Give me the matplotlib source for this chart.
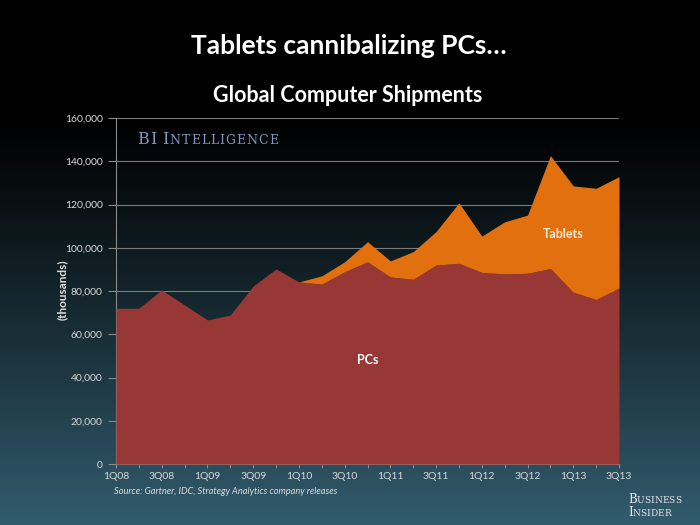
import numpy as np
import matplotlib
matplotlib.use("Agg")
import matplotlib.pyplot as plt

quarters = ["1Q08", "2Q08", "3Q08", "4Q08", "1Q09", "2Q09", "3Q09", "4Q09",
            "1Q10", "2Q10", "3Q10", "4Q10", "1Q11", "2Q11", "3Q11", "4Q11",
            "1Q12", "2Q12", "3Q12", "4Q12", "1Q13", "2Q13", "3Q13"]
pcs = [72000, 72000, 80500, 73500, 66600, 68900, 82300, 90200,
       84200, 83200, 88900, 93500, 86500, 85400, 92000, 92800,
       88600, 87900, 88200, 90400, 79400, 76100, 81400]
tablets = [0, 0, 0, 0, 0, 0, 0, 0,
           0, 3800, 4600, 9300, 7400, 12800, 15500, 28000,
           16800, 24100, 26900, 52200, 49200, 51400, 51500]
yticks = [0, 20000, 40000, 60000, 80000, 100000, 120000, 140000, 160000]

fig = plt.figure(figsize=(7, 5.25), dpi=100)

# background gradient: black top -> dark teal bottom
bg = fig.add_axes([0, 0, 1, 1], zorder=-10)
t = np.linspace(0, 1, 256)
w = np.clip((t - 0.22) / 0.78, 0, 1) ** 1.1
top_c = np.array([0, 0, 0])
bot_c = np.array([50, 92, 110]) / 255
grad = top_c[None, :] * (1 - w[:, None]) + bot_c[None, :] * w[:, None]
bg.imshow(grad[:, None, :], aspect="auto", extent=[0, 1, 0, 1])
bg.axis("off")

ax = fig.add_axes([116/700, 61/525, 503/700, 346/525])
ax.patch.set_alpha(0)
x = np.arange(len(quarters))
pcs = np.array(pcs); tablets = np.array(tablets)
ax.fill_between(x, 0, pcs, color="#973836", lw=0, zorder=3)
ax.fill_between(x[8:], pcs[8:], pcs[8:] + tablets[8:], color="#E3700F", lw=0, zorder=3)

ax.set_xlim(0, len(quarters) - 1)
ax.set_ylim(0, 160000)
ax.set_yticks(yticks)
ax.set_yticklabels([f"{v:,}" for v in yticks])
ax.set_xticks(x[::2])
ax.set_xticklabels(quarters[::2])
ax.set_xticks(x, minor=True)
ax.grid(axis="y", color="#7a7a7a", lw=0.8, zorder=1)
for s in ["top", "right"]:
    ax.spines[s].set_visible(False)
ax.spines["left"].set_color("#8a8a8a")
ax.spines["bottom"].set_color("#8a8a8a")
ax.tick_params(axis="y", colors="#8a8a8a", labelcolor="#d8d8d8", length=6, width=0.8, labelsize=7.5)
ax.tick_params(axis="x", which="both", colors="#8a8a8a", labelcolor="#d8d8d8", length=3, width=0.8, labelsize=7.5, pad=3)
for lab in ax.get_xticklabels() + ax.get_yticklabels():
    lab.set_family("Lato")

ax.text(0.5, 0.3, "PCs", transform=ax.transAxes, ha="center", va="center",
        color="white", fontsize=9, fontweight="bold", family="Lato", zorder=5)
ax.text(0.89, 0.665, "Tablets", transform=ax.transAxes, ha="center", va="center",
        color="#f8ead0", fontsize=9, fontweight="bold", family="Lato", zorder=5)

fig.text(349/700, 1 - 46/525, "Tablets cannibalizing PCs\u2026", ha="center", va="center",
         color="white", fontsize=19, fontweight="bold", family="Lato")
fig.text(348/700, 1 - 96/525, "Global Computer Shipments", ha="center", va="center",
         color="white", fontsize=15.5, fontweight="bold", family="Lato")
fig.text(62/700, 1 - 290/525, "(thousands)", rotation=90, ha="center", va="center",
         color="#e0e0e0", fontsize=8.5, fontweight="bold", family="Lato")
fig.text(114/700, 1 - 492/525, "Source: Gartner, IDC, Strategy Analytics company releases",
         ha="left", va="center", color="#dcdcdc", fontsize=6.7, style="italic", family="Lato")

# small-caps style logos
def smallcaps(x0, y0, parts, color, big, small, spacing=0.0):
    r = fig.canvas.get_renderer()
    xx = x0
    for txt, size in parts:
        fs = big if size else small
        for ch in txt:
            tt = fig.text(xx, y0, ch, ha="left", va="baseline", color=color,
                          fontsize=fs, family="DejaVu Serif")
            bb = tt.get_window_extent(renderer=r)
            xx += bb.width / fig.bbox.width + spacing
    return xx

smallcaps(137/700, 1 - 144/525, [("BI", True), (" ", False), ("I", True), ("NTELLIGENCE", False)],
          "#7d97bd", 11.5, 9, spacing=1.0/700)
smallcaps(628/700, 1 - 503/525, [("B", True), ("USINESS", False)], "#e6e6e6", 8.5, 6.5)
smallcaps(628/700, 1 - 516/525, [("I", True), ("NSIDER", False)], "#e6e6e6", 8.5, 6.5)

fig.savefig("out.png", dpi=100)
